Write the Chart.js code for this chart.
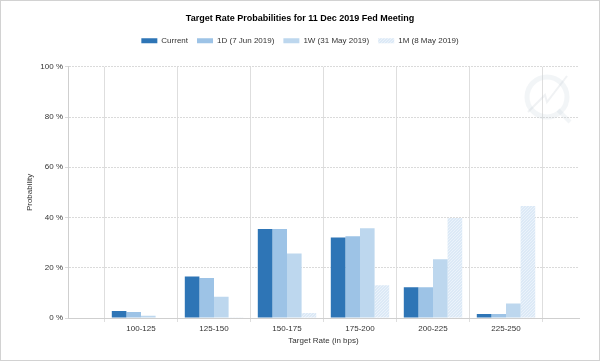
<!DOCTYPE html>
<html>
<head>
<meta charset="utf-8">
<script src="https://cdn.jsdelivr.net/npm/chart.js@4.4.1/dist/chart.umd.min.js"></script>
<style>
  html, body { margin: 0; padding: 0; background: #fff; }
  #wrap { width: 600px; height: 361px; position: relative; }
</style>
</head>
<body>
<div id="wrap"><canvas id="c" width="600" height="361"></canvas></div>
<script>
const categories = ['100-125', '125-150', '150-175', '175-200', '200-225', '225-250'];
const seriesNames = ['Current', '1D (7 Jun 2019)', '1W (31 May 2019)', '1M (8 May 2019)'];
const current = [2.8, 16.5, 35.4, 32.0, 12.2, 1.6];
const oneDay = [2.4, 15.9, 35.4, 32.5, 12.2, 1.6];
const oneWeek = [0.9, 8.5, 25.7, 35.7, 23.4, 5.8];
const oneMonth = [0.0, 0.3, 2.0, 13.0, 39.8, 44.6];
const yTicks = [0, 20, 40, 60, 80, 100];

const FONT = "'Liberation Sans', Arial, sans-serif";

const ctx = document.getElementById('c').getContext('2d');
const pattern = ctx.createPattern((function(){
  const p = document.createElement('canvas');
  p.width = 3; p.height = 3;
  const g = p.getContext('2d');
  g.fillStyle = '#dce9f6';
  g.fillRect(0, 0, 3, 3);
  g.fillStyle = '#ebf3fb';
  g.fillRect(0, 0, 1, 1);
  g.fillRect(2, 1, 1, 1);
  g.fillRect(1, 2, 1, 1);
  return p;
})(), 'repeat');

const labels = [''].concat(categories, ['']);
const pad = arr => [null].concat(arr, [null]);
const colors = ['#2e75b6', '#9dc3e6', '#bdd7ee', pattern];
const seriesData = [current, oneDay, oneWeek, oneMonth];

const frame = {
  id: 'frame',
  beforeDraw(chart) {
    const c = chart.ctx;
    c.save();
    c.fillStyle = '#fff';
    c.fillRect(0, 0, chart.width, chart.height);
    c.strokeStyle = '#d2d2d2';
    c.lineWidth = 1;
    c.strokeRect(0.5, 0.5, chart.width - 1, chart.height - 1);
    c.restore();
  },
  beforeDatasetsDraw(chart) {
    // faint watermark logo
    const c = chart.ctx;
    c.save();
    c.strokeStyle = 'rgba(205,215,225,0.25)';
    c.lineWidth = 5;
    c.beginPath();
    c.arc(547, 97, 20, 0, Math.PI * 2);
    c.stroke();
    c.lineWidth = 4;
    c.beginPath();
    c.moveTo(558, 110); c.lineTo(570, 122);
    c.stroke();
    c.strokeStyle = 'rgba(195,203,212,0.25)';
    c.lineWidth = 2;
    c.beginPath();
    c.moveTo(528, 112); c.lineTo(545, 95); c.lineTo(547, 102); c.lineTo(567, 76);
    c.stroke();
    c.restore();
  }
};

new Chart(ctx, {
  type: 'bar',
  data: {
    labels: labels,
    datasets: seriesData.map((d, i) => ({
      label: seriesNames[i],
      data: pad(d),
      backgroundColor: colors[i],
      borderWidth: 0,
      categoryPercentage: 0.8,
      barPercentage: 1.0
    }))
  },
  options: {
    responsive: false,
    animation: false,
    devicePixelRatio: 1,
    layout: { padding: { left: 0, right: 0, top: 0, bottom: 0 } },
    plugins: {
      title: {
        display: true,
        text: 'Target Rate Probabilities for 11 Dec 2019 Fed Meeting',
        color: '#000',
        font: { family: FONT, size: 9, weight: 'bold', lineHeight: 1.2 },
        padding: { top: 13, bottom: 4 }
      },
      subtitle: {
        display: true,
        text: ' ',
        weight: 500,
        font: { family: FONT, size: 1, lineHeight: 1 },
        padding: { top: 0, bottom: 11 }
      },
      legend: {
        display: true,
        position: 'top',
        labels: {
          color: '#333',
          font: { family: FONT, size: 8 },
          boxWidth: 16,
          boxHeight: 5,
          padding: 9
        }
      },
      tooltip: { enabled: false }
    },
    scales: {
      x: {
        type: 'category',
        offset: false,
        grid: { color: '#dedede', lineWidth: 1, tickLength: 4, drawTicks: true },
        border: { color: '#cfcfcf' },
        ticks: {
          color: '#333',
          font: { family: FONT, size: 8 },
          padding: 2,
          maxRotation: 0,
          autoSkip: false
        },
        title: {
          display: true,
          text: 'Target Rate (in bps)',
          color: '#333',
          font: { family: FONT, size: 8 },
          padding: { top: 0, bottom: 15 }
        },
        afterFit(scale) { scale.height = 43; }
      },
      y: {
        min: 0,
        max: 100,
        afterBuildTicks(scale) { scale.ticks = yTicks.map(v => ({ value: v })); },
        grid: { color: '#dadada', lineWidth: 1, tickLength: 3 },
        border: { color: '#cfcfcf', dash: [2, 1] },
        ticks: {
          color: '#333',
          font: { family: FONT, size: 8 },
          padding: 2,
          callback: v => v + ' %'
        },
        title: {
          display: true,
          text: 'Probability',
          color: '#333',
          font: { family: FONT, size: 8 },
          padding: { top: 25, bottom: 0 }
        },
        afterFit(scale) { scale.width = 68; }
      },
      ySpacer: {
        type: 'linear',
        position: 'right',
        display: true,
        min: 0,
        max: 100,
        grid: { drawOnChartArea: false, drawTicks: false },
        border: { display: false },
        ticks: { display: false },
        afterFit(scale) { scale.width = 21; }
      }
    }
  },
  plugins: [frame]
});
</script>
</body>
</html>
